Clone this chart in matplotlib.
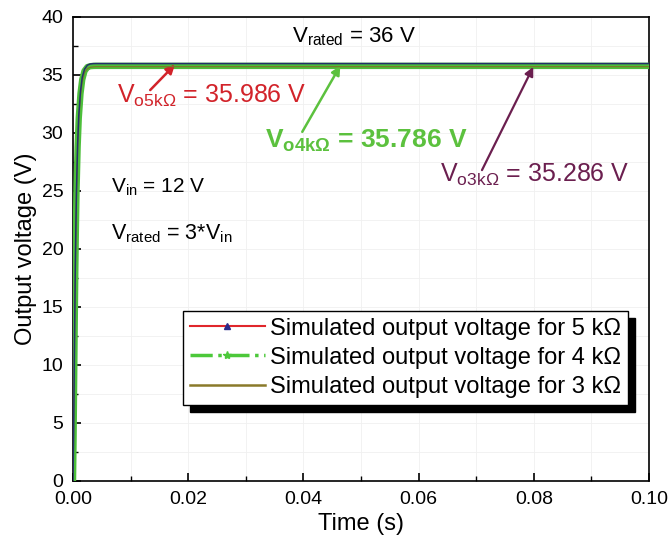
import numpy as np
import matplotlib
matplotlib.use("Agg")
import matplotlib.pyplot as plt
from matplotlib.lines import Line2D
from matplotlib.ticker import MultipleLocator

plt.rcParams['font.family'] = ['Liberation Sans', 'DejaVu Sans']
plt.rcParams['mathtext.fontset'] = 'custom'
plt.rcParams['mathtext.rm'] = 'Liberation Sans'

# simulated output voltage
t = [0, 0.0001, 0.0002, 0.0003, 0.0004, 0.0005, 0.0006, 0.0008, 0.001,
     0.0013, 0.0016, 0.002, 0.0025, 0.003, 0.0035, 0.004, 0.1]
v_5k = [0, 4, 9, 14, 18.5, 22, 25, 29, 31.5, 33.6, 34.8, 35.5, 35.85,
        35.95, 35.98, 35.986, 35.986]
v_4k = [0, 3.9, 8.9, 13.8, 18.3, 21.8, 24.8, 28.8, 31.3, 33.4, 34.6, 35.35,
        35.68, 35.76, 35.78, 35.786, 35.786]
v_3k = [0, 3.8, 8.7, 13.6, 18.1, 21.6, 24.6, 28.6, 31.1, 33.2, 34.4, 35.2,
        35.55, 35.66, 35.7, 35.72, 35.72]

labels = ["Simulated output voltage for 5 kΩ",
          "Simulated output voltage for 4 kΩ",
          "Simulated output voltage for 3 kΩ"]

fig = plt.figure(figsize=(6.68, 5.43), dpi=100)
ax = fig.add_axes([0.1093, 0.1142, 0.8623, 0.8545])

ax.plot(t, v_4k, color='#4cbf3a', lw=4.6, zorder=3)
ax.plot(t, v_3k, color='#7a7a2a', lw=0.9, zorder=4)
ax.plot(t, v_5k, color='#23306b', lw=1.1, zorder=5)

ax.set_xlim(0, 0.10)
ax.set_ylim(0, 40)
ax.xaxis.set_major_locator(MultipleLocator(0.02))
ax.xaxis.set_minor_locator(MultipleLocator(0.01))
ax.yaxis.set_major_locator(MultipleLocator(5))
ax.yaxis.set_minor_locator(MultipleLocator(2.5))
ax.xaxis.set_major_formatter(plt.FormatStrFormatter('%.2f'))
ax.tick_params(which='both', direction='in', labelsize=14)
ax.tick_params(which='major', length=6, width=1.2)
ax.tick_params(which='minor', length=3.5, width=1)
ax.tick_params(axis='y', pad=7)
ax.tick_params(axis='x', pad=7)
ax.grid(which='both', color='#f0f0f0', lw=0.6)
ax.set_axisbelow(True)
for s in ax.spines.values():
    s.set_linewidth(1.2)

ax.set_xlabel('Time (s)', fontsize=17, labelpad=4)
ax.set_ylabel('Output voltage (V)', fontsize=17, labelpad=3)

# annotations
ax.text(0.0381, 38.3, r'$\mathregular{V_{rated}}$ = 36 V', fontsize=16,
        va='center', color='black')
ax.text(0.0066, 25.3, r'$\mathregular{V_{in}}$ = 12 V', fontsize=15,
        va='center')
ax.text(0.0066, 21.3, r'$\mathregular{V_{rated}}$ = 3*$\mathregular{V_{in}}$',
        fontsize=15.5, va='center')

ax.text(0.0076, 33.2, '$\\mathregular{V_{o5kΩ}}$ = 35.986 V', fontsize=18,
        color='#d2232a', va='center')
ax.text(0.0333, 29.3, '$\\mathregular{V_{o4kΩ}}$ = 35.786 V', fontsize=19,
        color='#5cc13e', va='center', fontweight='bold')
ax.text(0.0637, 26.4, '$\\mathregular{V_{o3kΩ}}$ = 35.286 V', fontsize=18,
        color='#6b1f4f', va='center')

arrow_kw = dict(arrowstyle='-|>', shrinkA=0, shrinkB=0, mutation_scale=13)
ax.annotate('', xy=(0.0177, 35.9), xytext=(0.0134, 33.7),
            arrowprops=dict(color='#d2232a', lw=1.8, **arrow_kw))
ax.annotate('', xy=(0.0464, 35.8), xytext=(0.0398, 30.1),
            arrowprops=dict(color='#5cc13e', lw=1.8, **arrow_kw))
ax.annotate('', xy=(0.0799, 35.7), xytext=(0.0710, 26.8),
            arrowprops=dict(color='#6b1f4f', lw=1.6, **arrow_kw))

# legend handles styled like the original (red + triangles, green dash-dot, olive)
handles = [
    Line2D([], [], color='#e0262b', lw=1.5, marker='^', markersize=5,
           markerfacecolor='#2a2a8a', markeredgecolor='#2a2a8a'),
    Line2D([], [], color='#4cc83a', lw=2.5, ls='-.', marker='*', markersize=6,
           markerfacecolor='#4cc83a', markeredgecolor='#4cc83a'),
    Line2D([], [], color='#8a7a2a', lw=1.8),
]
leg = ax.legend(handles, labels, loc='lower right',
                bbox_to_anchor=(0.9635, 0.164), fontsize=17, numpoints=1,
                frameon=True, fancybox=False, edgecolor='black',
                shadow={'color': 'black', 'alpha': 1, 'ox': 5, 'oy': -5},
                handlelength=3.2, handletextpad=0.2, borderpad=0.3,
                labelspacing=0.3, borderaxespad=0)
leg.get_frame().set_linewidth(1.0)

fig.savefig('out.png', dpi=100)
